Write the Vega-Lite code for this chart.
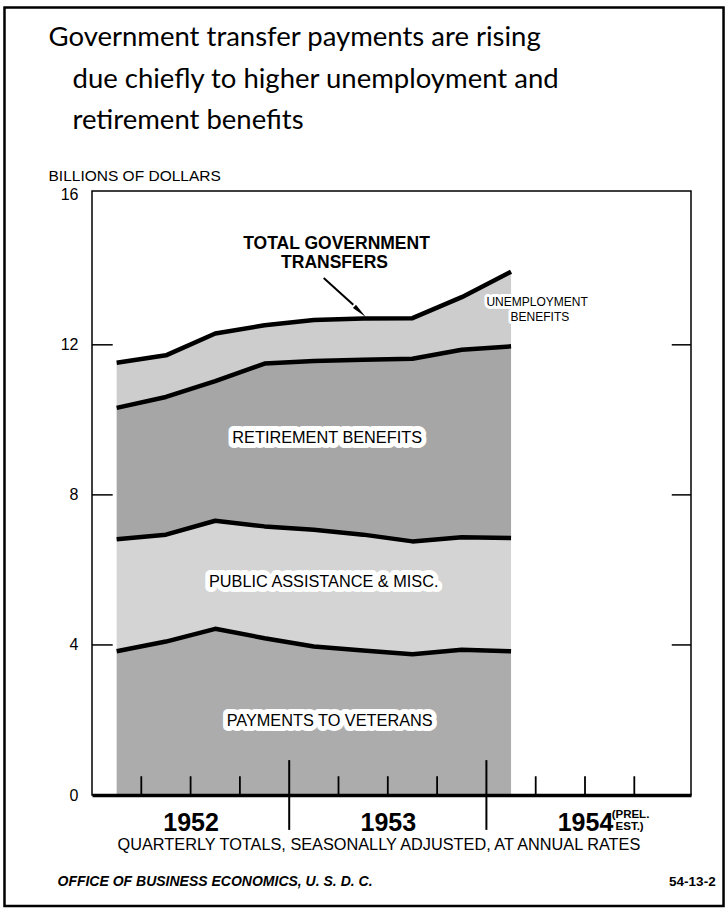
{
  "$schema": "https://vega.github.io/schema/vega-lite/v6.json",
  "width": 599,
  "height": 604,
  "autosize": {"type": "none"},
  "padding": {"left": 92, "top": 191, "right": 37, "bottom": 120},
  "background": "white",
  "config": {
    "view": {"stroke": "black", "strokeWidth": 1.5},
    "font": "Liberation Sans"
  },
  "datasets": {
    "transfers": [
      {"t": 0.5, "s": "Payments to veterans", "k": 1, "v": 3.83},
      {"t": 0.5, "s": "Public assistance & misc.", "k": 2, "v": 2.99},
      {"t": 0.5, "s": "Retirement benefits", "k": 3, "v": 3.50},
      {"t": 0.5, "s": "Unemployment benefits", "k": 4, "v": 1.20},
      {"t": 1.5, "s": "Payments to veterans", "k": 1, "v": 4.09},
      {"t": 1.5, "s": "Public assistance & misc.", "k": 2, "v": 2.85},
      {"t": 1.5, "s": "Retirement benefits", "k": 3, "v": 3.67},
      {"t": 1.5, "s": "Unemployment benefits", "k": 4, "v": 1.11},
      {"t": 2.5, "s": "Payments to veterans", "k": 1, "v": 4.43},
      {"t": 2.5, "s": "Public assistance & misc.", "k": 2, "v": 2.88},
      {"t": 2.5, "s": "Retirement benefits", "k": 3, "v": 3.72},
      {"t": 2.5, "s": "Unemployment benefits", "k": 4, "v": 1.27},
      {"t": 3.5, "s": "Payments to veterans", "k": 1, "v": 4.18},
      {"t": 3.5, "s": "Public assistance & misc.", "k": 2, "v": 2.98},
      {"t": 3.5, "s": "Retirement benefits", "k": 3, "v": 4.34},
      {"t": 3.5, "s": "Unemployment benefits", "k": 4, "v": 1.02},
      {"t": 4.5, "s": "Payments to veterans", "k": 1, "v": 3.96},
      {"t": 4.5, "s": "Public assistance & misc.", "k": 2, "v": 3.11},
      {"t": 4.5, "s": "Retirement benefits", "k": 3, "v": 4.50},
      {"t": 4.5, "s": "Unemployment benefits", "k": 4, "v": 1.09},
      {"t": 5.5, "s": "Payments to veterans", "k": 1, "v": 3.85},
      {"t": 5.5, "s": "Public assistance & misc.", "k": 2, "v": 3.09},
      {"t": 5.5, "s": "Retirement benefits", "k": 3, "v": 4.66},
      {"t": 5.5, "s": "Unemployment benefits", "k": 4, "v": 1.10},
      {"t": 6.5, "s": "Payments to veterans", "k": 1, "v": 3.75},
      {"t": 6.5, "s": "Public assistance & misc.", "k": 2, "v": 3.01},
      {"t": 6.5, "s": "Retirement benefits", "k": 3, "v": 4.87},
      {"t": 6.5, "s": "Unemployment benefits", "k": 4, "v": 1.08},
      {"t": 7.5, "s": "Payments to veterans", "k": 1, "v": 3.87},
      {"t": 7.5, "s": "Public assistance & misc.", "k": 2, "v": 3.00},
      {"t": 7.5, "s": "Retirement benefits", "k": 3, "v": 5.00},
      {"t": 7.5, "s": "Unemployment benefits", "k": 4, "v": 1.40},
      {"t": 8.5, "s": "Payments to veterans", "k": 1, "v": 3.83},
      {"t": 8.5, "s": "Public assistance & misc.", "k": 2, "v": 3.02},
      {"t": 8.5, "s": "Retirement benefits", "k": 3, "v": 5.11},
      {"t": 8.5, "s": "Unemployment benefits", "k": 4, "v": 1.99}
    ],
    "labels": [
      {"g": "title", "text": "Government transfer payments are rising", "x": -0.882, "y": 20.19},
      {"g": "title", "text": "due chiefly to higher unemployment and", "x": -0.396, "y": 19.07},
      {"g": "title", "text": "retirement benefits", "x": -0.396, "y": 17.97},
      {"g": "units", "text": "BILLIONS OF DOLLARS", "x": -0.882, "y": 16.51},
      {"g": "box", "text": "RETIREMENT BENEFITS", "x": 4.77, "y": 9.52},
      {"g": "box", "text": "PUBLIC ASSISTANCE & MISC.", "x": 4.70, "y": 5.69},
      {"g": "box", "text": "PAYMENTS TO VETERANS", "x": 4.82, "y": 1.98},
      {"g": "total", "text": "TOTAL GOVERNMENT", "x": 4.96, "y": 14.69},
      {"g": "total", "text": "TRANSFERS", "x": 4.92, "y": 14.19},
      {"g": "unemp", "text": "UNEMPLOYMENT", "x": 8.0, "y": 13.13},
      {"g": "unemp", "text": "BENEFITS", "x": 8.49, "y": 12.75},
      {"g": "note", "text": "QUARTERLY TOTALS, SEASONALLY ADJUSTED, AT ANNUAL RATES", "x": 5.82, "y": -1.33},
      {"g": "prel", "text": "(PREL.", "x": 10.54, "y": -0.52},
      {"g": "prel", "text": "EST.)", "x": 10.62, "y": -0.86},
      {"g": "footer", "text": "OFFICE OF BUSINESS ECONOMICS, U. S. D. C.", "x": -0.70, "y": -2.32},
      {"g": "code", "text": "54-13-2", "x": 12.65, "y": -2.32}
    ]
  },
  "layer": [
    {
      "data": {"values": [{"name": "border"}]},
      "mark": {"type": "rect", "fill": null, "stroke": "black", "strokeWidth": 2.5},
      "encoding": {
        "x": {"datum": -1.775, "type": "quantitative"},
        "x2": {"datum": 12.81},
        "y": {"datum": 20.99, "type": "quantitative"},
        "y2": {"datum": -2.96}
      }
    },
    {
      "data": {"name": "transfers"},
      "transform": [
        {"stack": "v", "groupby": ["t"], "sort": [{"field": "k", "order": "ascending"}], "as": ["lo", "hi"]}
      ],
      "mark": {"type": "area", "interpolate": "linear"},
      "encoding": {
        "x": {
          "field": "t", "type": "quantitative",
          "scale": {"domain": [0, 12.15], "nice": false, "zero": false},
          "axis": {
            "title": null, "values": [2, 6, 10],
            "labelExpr": "datum.value == 2 ? '1952' : datum.value == 6 ? '1953' : '1954'",
            "ticks": false, "tickSize": 0, "grid": false,
            "domainColor": "black", "domainWidth": 3.5,
            "labelFont": "Liberation Sans", "labelFontSize": 25, "labelFontWeight": "bold",
            "labelColor": "black", "labelBaseline": "alphabetic", "labelPadding": 35,
            "labelOverlap": false, "labelFlush": false, "zindex": 1
          }
        },
        "y": {
          "field": "hi", "type": "quantitative",
          "scale": {"domain": [0, 16.1], "nice": false},
          "axis": {
            "title": null, "values": [0, 4, 8, 12, 16],
            "ticks": false, "tickSize": 0, "grid": false, "domain": false,
            "labelFont": "Liberation Sans", "labelFontSize": 16, "labelColor": "black",
            "labelPadding": 14, "labelFlush": false, "labelOverlap": false
          }
        },
        "y2": {"field": "lo"},
        "fill": {
          "field": "s", "type": "nominal", "legend": null,
          "scale": {
            "domain": ["Payments to veterans", "Public assistance & misc.", "Retirement benefits", "Unemployment benefits"],
            "range": ["#acacac", "#d4d4d4", "#a6a6a6", "#cdcdcd"]
          }
        }
      }
    },
    {
      "data": {"name": "transfers"},
      "transform": [
        {"stack": "v", "groupby": ["t"], "sort": [{"field": "k", "order": "ascending"}], "as": ["lo", "hi"]}
      ],
      "mark": {"type": "line", "color": "black", "strokeWidth": 4.5, "strokeJoin": "round", "strokeCap": "butt"},
      "encoding": {
        "x": {"field": "t", "type": "quantitative"},
        "y": {"field": "hi", "type": "quantitative"},
        "detail": {"field": "s", "type": "nominal"}
      }
    },
    {
      "data": {"values": [{"q": 1}, {"q": 2}, {"q": 3}, {"q": 5}, {"q": 6}, {"q": 7}, {"q": 9}, {"q": 10}, {"q": 11}]},
      "mark": {"type": "rule", "color": "black", "strokeWidth": 1.8},
      "encoding": {
        "x": {"field": "q", "type": "quantitative"},
        "y": {"datum": 0, "type": "quantitative"},
        "y2": {"datum": 0.5}
      }
    },
    {
      "data": {"values": [{"q": 4}, {"q": 8}]},
      "mark": {"type": "rule", "color": "black", "strokeWidth": 2},
      "encoding": {
        "x": {"field": "q", "type": "quantitative"},
        "y": {"datum": -0.93, "type": "quantitative"},
        "y2": {"datum": 0.93}
      }
    },
    {
      "data": {"values": [{"v": 4}, {"v": 8}, {"v": 12}]},
      "mark": {"type": "rule", "color": "black", "strokeWidth": 1.5},
      "encoding": {
        "y": {"field": "v", "type": "quantitative"},
        "x": {"datum": 0, "type": "quantitative"},
        "x2": {"datum": 0.42}
      }
    },
    {
      "data": {"values": [{"v": 4}, {"v": 8}, {"v": 12}]},
      "mark": {"type": "rule", "color": "black", "strokeWidth": 1.5},
      "encoding": {
        "y": {"field": "v", "type": "quantitative"},
        "x": {"datum": 11.76, "type": "quantitative"},
        "x2": {"datum": 12.15}
      }
    },
    {
      "data": {"values": [{"x": 4.70, "y": 13.78, "x2": 5.30, "y2": 13.07}]},
      "mark": {"type": "rule", "color": "black", "strokeWidth": 2},
      "encoding": {
        "x": {"field": "x", "type": "quantitative"},
        "y": {"field": "y", "type": "quantitative"},
        "x2": {"field": "x2"},
        "y2": {"field": "y2"}
      }
    },
    {
      "data": {"values": [{"x": 5.40, "y": 12.93}]},
      "mark": {"type": "point", "shape": "wedge", "filled": true, "color": "black", "size": 320, "angle": 133, "opacity": 1},
      "encoding": {
        "x": {"field": "x", "type": "quantitative"},
        "y": {"field": "y", "type": "quantitative"}
      }
    },
    {
      "data": {"name": "labels"},
      "transform": [{"filter": "datum.g == 'title'"}],
      "mark": {"type": "text", "align": "left", "baseline": "middle", "font": "Lato", "fontSize": 27.5, "color": "black"},
      "encoding": {
        "x": {"field": "x", "type": "quantitative"},
        "y": {"field": "y", "type": "quantitative"},
        "text": {"field": "text"}
      }
    },
    {
      "data": {"name": "labels"},
      "transform": [{"filter": "datum.g == 'units'"}],
      "mark": {"type": "text", "align": "left", "baseline": "middle", "font": "Liberation Sans", "fontSize": 15.5, "color": "black"},
      "encoding": {
        "x": {"field": "x", "type": "quantitative"},
        "y": {"field": "y", "type": "quantitative"},
        "text": {"field": "text"}
      }
    },
    {
      "data": {"name": "labels"},
      "transform": [{"filter": "datum.g == 'box'"}],
      "mark": {"type": "text", "align": "center", "baseline": "middle", "font": "Liberation Sans", "fontSize": 16.3, "color": "white", "stroke": "white", "strokeWidth": 10, "strokeJoin": "round"},
      "encoding": {
        "x": {"field": "x", "type": "quantitative"},
        "y": {"field": "y", "type": "quantitative"},
        "text": {"field": "text"}
      }
    },
    {
      "data": {"name": "labels"},
      "transform": [{"filter": "datum.g == 'unemp'"}],
      "mark": {"type": "text", "align": "left", "baseline": "middle", "font": "Liberation Sans", "fontSize": 12, "color": "white", "stroke": "white", "strokeWidth": 6, "strokeJoin": "round"},
      "encoding": {
        "x": {"field": "x", "type": "quantitative"},
        "y": {"field": "y", "type": "quantitative"},
        "text": {"field": "text"}
      }
    },
    {
      "data": {"name": "labels"},
      "transform": [{"filter": "datum.g == 'box'"}],
      "mark": {"type": "text", "align": "center", "baseline": "middle", "font": "Liberation Sans", "fontSize": 16.3, "color": "black"},
      "encoding": {
        "x": {"field": "x", "type": "quantitative"},
        "y": {"field": "y", "type": "quantitative"},
        "text": {"field": "text"}
      }
    },
    {
      "data": {"name": "labels"},
      "transform": [{"filter": "datum.g == 'total'"}],
      "mark": {"type": "text", "align": "center", "baseline": "middle", "font": "Liberation Sans", "fontSize": 17.5, "fontWeight": "bold", "color": "black"},
      "encoding": {
        "x": {"field": "x", "type": "quantitative"},
        "y": {"field": "y", "type": "quantitative"},
        "text": {"field": "text"}
      }
    },
    {
      "data": {"name": "labels"},
      "transform": [{"filter": "datum.g == 'unemp'"}],
      "mark": {"type": "text", "align": "left", "baseline": "middle", "font": "Liberation Sans", "fontSize": 12, "color": "black"},
      "encoding": {
        "x": {"field": "x", "type": "quantitative"},
        "y": {"field": "y", "type": "quantitative"},
        "text": {"field": "text"}
      }
    },
    {
      "data": {"name": "labels"},
      "transform": [{"filter": "datum.g == 'note'"}],
      "mark": {"type": "text", "align": "center", "baseline": "middle", "font": "Liberation Sans", "fontSize": 16.3, "color": "black"},
      "encoding": {
        "x": {"field": "x", "type": "quantitative"},
        "y": {"field": "y", "type": "quantitative"},
        "text": {"field": "text"}
      }
    },
    {
      "data": {"name": "labels"},
      "transform": [{"filter": "datum.g == 'prel'"}],
      "mark": {"type": "text", "align": "left", "baseline": "middle", "font": "Liberation Sans", "fontSize": 11.5, "fontWeight": "bold", "color": "black"},
      "encoding": {
        "x": {"field": "x", "type": "quantitative"},
        "y": {"field": "y", "type": "quantitative"},
        "text": {"field": "text"}
      }
    },
    {
      "data": {"name": "labels"},
      "transform": [{"filter": "datum.g == 'footer'"}],
      "mark": {"type": "text", "align": "left", "baseline": "middle", "font": "Liberation Sans", "fontSize": 14, "fontWeight": "bold", "fontStyle": "italic", "color": "black"},
      "encoding": {
        "x": {"field": "x", "type": "quantitative"},
        "y": {"field": "y", "type": "quantitative"},
        "text": {"field": "text"}
      }
    },
    {
      "data": {"name": "labels"},
      "transform": [{"filter": "datum.g == 'code'"}],
      "mark": {"type": "text", "align": "right", "baseline": "middle", "font": "Liberation Sans", "fontSize": 13.5, "fontWeight": "bold", "color": "black"},
      "encoding": {
        "x": {"field": "x", "type": "quantitative"},
        "y": {"field": "y", "type": "quantitative"},
        "text": {"field": "text"}
      }
    }
  ]
}
